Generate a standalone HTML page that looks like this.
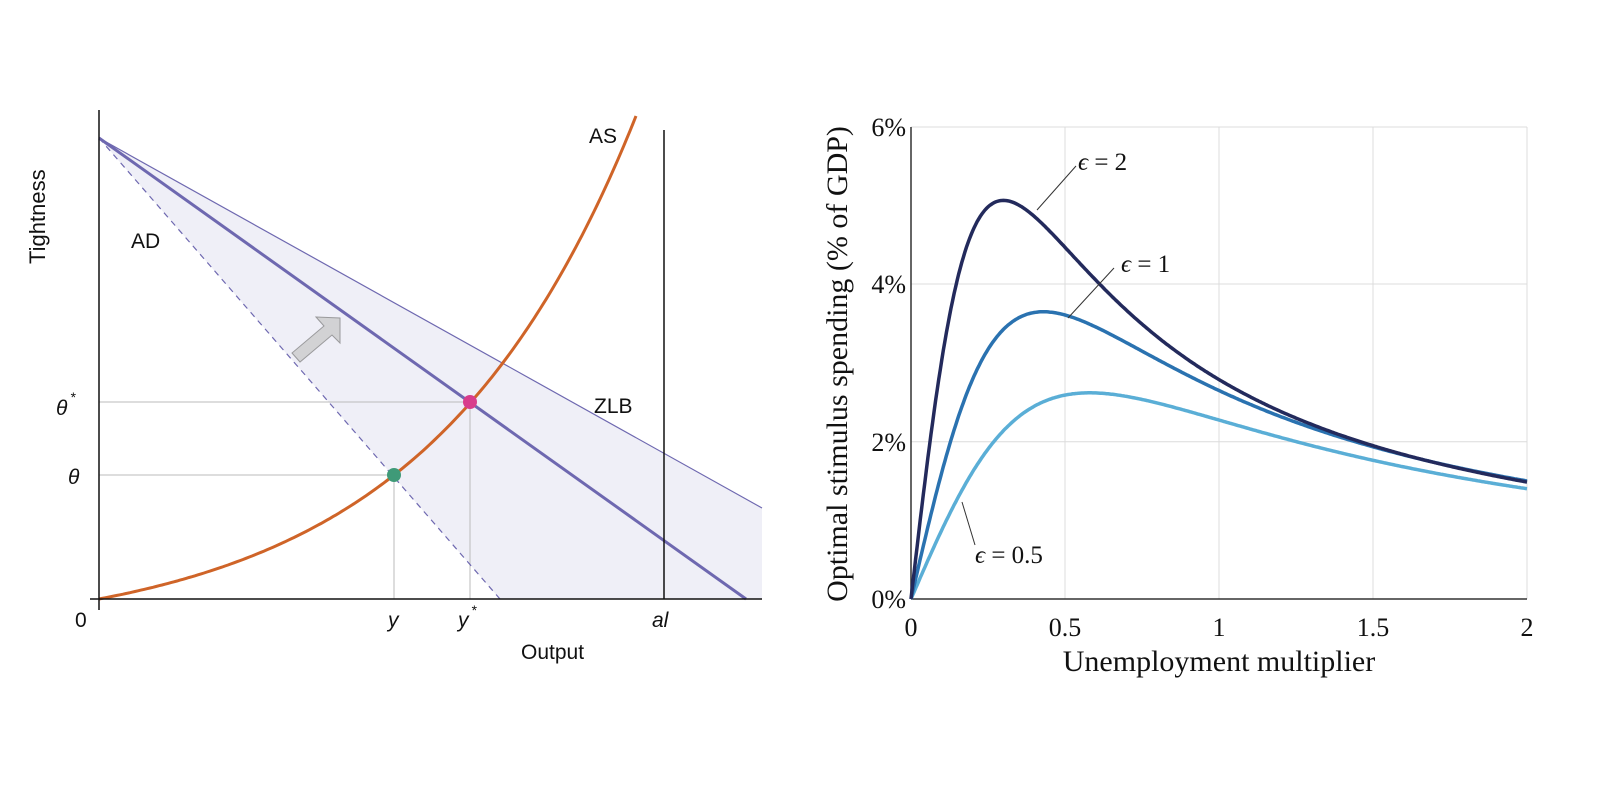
<!DOCTYPE html>
<html><head><meta charset="utf-8"><style>
body{margin:0;background:#fff}
svg{display:block}
.s{font-family:"Liberation Sans",sans-serif}
.r{font-family:"Liberation Serif",serif}
</style></head><body>
<svg id="c" width="1600" height="800" xmlns="http://www.w3.org/2000/svg">
<rect width="1600" height="800" fill="#fff"/>
<polygon points="99,138 762,508 762,599 500,599" fill="#efeff7"/>
<line x1="99" y1="402" x2="470" y2="402" stroke="#bbb" stroke-width="1"/>
<line x1="99" y1="475" x2="394" y2="475" stroke="#bbb" stroke-width="1"/>
<line x1="394" y1="475" x2="394" y2="599" stroke="#bbb" stroke-width="1"/>
<line x1="470" y1="402" x2="470" y2="599" stroke="#bbb" stroke-width="1"/>
<line x1="99" y1="138" x2="762" y2="508" stroke="#6e68b0" stroke-width="1.2"/>
<line x1="99" y1="138" x2="500" y2="599" stroke="#6e68b0" stroke-width="1.2" stroke-dasharray="6,5"/>
<line x1="99" y1="138" x2="746" y2="599" stroke="#6e68b0" stroke-width="3"/>
<line x1="664" y1="130" x2="664" y2="599" stroke="#111" stroke-width="1.5"/>
<path id="as" fill="none" stroke="#cf6428" stroke-width="3"/>
<line x1="99" y1="110" x2="99" y2="610" stroke="#111" stroke-width="1.5"/>
<line x1="90" y1="599" x2="762" y2="599" stroke="#111" stroke-width="1.5"/>
<polygon points="316,317 340,318 340,343 332,335 300,362 292,353 324,326" fill="#d2d2d4" stroke="#9a9a9c" stroke-width="1"/>
<circle cx="394" cy="475" r="7" fill="#3f9a78"/>
<circle cx="470" cy="402" r="7" fill="#d83d8c"/>
<g class="s" font-size="21" fill="#111">
<text x="589" y="143">AS</text>
<text x="131" y="248">AD</text>
<text x="594" y="413">ZLB</text>
<text x="75" y="627">0</text>
<text x="521" y="659">Output</text>
<text transform="translate(45,264) rotate(-90)" font-size="22">Tightness</text>
<text x="388" y="627" font-style="italic">y</text>
<text x="458" y="627" font-style="italic">y</text><text x="471" y="615" font-size="14" font-style="italic">*</text>
<text x="652" y="627" font-style="italic">al</text>
<text x="56" y="415" font-style="italic">θ</text><text x="70" y="402" font-size="14" font-style="italic">*</text>
<text x="68" y="484" font-style="italic">θ</text>
</g>
<g stroke="#dcdcdc" stroke-width="1">
<line x1="911" y1="127" x2="1527" y2="127"/>
<line x1="911" y1="284" x2="1527" y2="284"/>
<line x1="911" y1="441.7" x2="1527" y2="441.7"/>
<line x1="1065" y1="127" x2="1065" y2="599"/>
<line x1="1219" y1="127" x2="1219" y2="599"/>
<line x1="1373" y1="127" x2="1373" y2="599"/>
<line x1="1527" y1="127" x2="1527" y2="599"/>
</g>
<line x1="911" y1="127" x2="911" y2="599" stroke="#333" stroke-width="1.5"/>
<line x1="911" y1="599" x2="1527" y2="599" stroke="#333" stroke-width="1.5"/>
<path id="e05" fill="none" stroke="#5aaed6" stroke-width="3.5"/>
<path id="e1" fill="none" stroke="#2a72b0" stroke-width="3.5"/>
<path id="e2" fill="none" stroke="#232a5c" stroke-width="3.5"/>
<g stroke="#333" stroke-width="1">
<line x1="1037" y1="210" x2="1076" y2="166"/>
<line x1="1068" y1="318" x2="1114" y2="268"/>
<line x1="962" y1="502" x2="975" y2="545"/>
</g>
<g class="r" font-size="25" fill="#111">
<text x="1078" y="170"><tspan font-style="italic">ϵ</tspan> = 2</text>
<text x="1121" y="272"><tspan font-style="italic">ϵ</tspan> = 1</text>
<text x="975" y="563"><tspan font-style="italic">ϵ</tspan> = 0.5</text>
<g text-anchor="end" font-size="26"><text x="906" y="136">6%</text><text x="906" y="293">4%</text><text x="906" y="451">2%</text><text x="906" y="608">0%</text></g>
<g text-anchor="middle" font-size="26"><text x="911" y="636">0</text><text x="1065" y="636">0.5</text><text x="1219" y="636">1</text><text x="1373" y="636">1.5</text><text x="1527" y="636">2</text>
<text x="1219" y="671" font-size="30">Unemployment multiplier</text>
<text transform="translate(847,364) rotate(-90)" font-size="30">Optimal stimulus spending (% of GDP)</text></g>
</g>
</svg>
<script>
function f(id,b,C){var d="";for(var i=0;i<=400;i++){var x=2*i/400;var v=C*x/(b*b+x*x);var px=911+x*308,py=599-v*78.67;d+=(i?"L":"M")+px.toFixed(1)+","+py.toFixed(1);}document.getElementById(id).setAttribute("d",d);}
f("e05",0.58,3.04);f("e1",0.43,3.14);f("e2",0.3,3.04);
var d="";for(var x=99;x<=636;x+=3){var y=599-39.7*(Math.exp(0.0048*(x-99))-1);d+=(x==99?"M":"L")+x+","+y.toFixed(1);}
document.getElementById("as").setAttribute("d",d);
</script>
</body></html>
